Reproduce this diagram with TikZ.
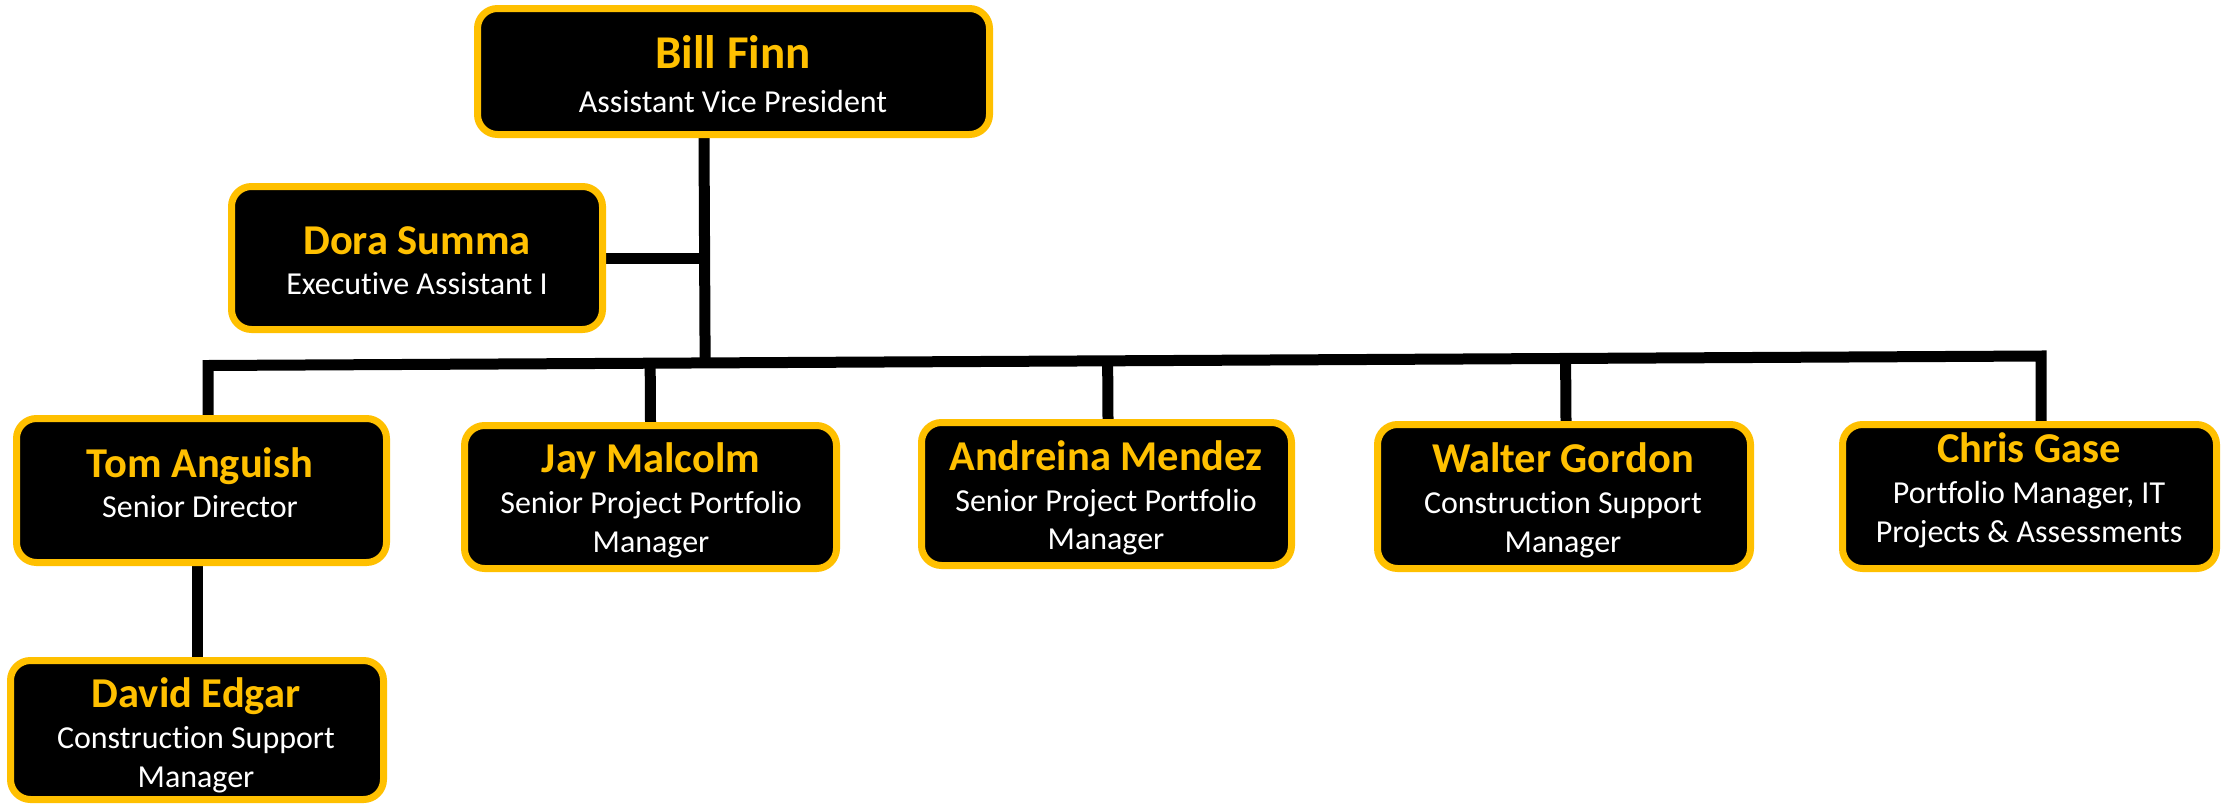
\documentclass[tikz,border=0pt]{standalone}
\usepackage{fontspec}
\setmainfont{Carlito}[Ligatures=NoCommon]
\usetikzlibrary{calc,backgrounds}
\definecolor{gold}{HTML}{FFC000}
\begin{document}
\begin{tikzpicture}[x=1pt,y=-1pt,
  box/.style={draw=gold, line width=7pt, fill=black, rounded corners=20pt, inner sep=0pt},
  pname/.style={anchor=base, text=gold, font=\fontsize{42.5}{50}\selectfont\bfseries, inner sep=0pt},
  bigname/.style={pname, font=\fontsize{47}{56}\selectfont\bfseries},
  ptitle/.style={anchor=base, text=white, font=\fontsize{32}{39}\selectfont, inner sep=0pt},
  link/.style={line width=11pt, draw=black, line join=miter}]
\useasboundingbox (0,0) rectangle (2224,803);
% boxes
\node[box, minimum width=512pt, minimum height=126pt] (bill) at (733.5,71.5) {};
\node[box, minimum width=371pt, minimum height=143pt] (dora) at (417,258) {};
\node[box, minimum width=370pt, minimum height=144pt] (tom) at (201.5,490.5) {};
\node[box, minimum width=372pt, minimum height=143pt] (jay) at (650.5,497) {};
\node[box, minimum width=370pt, minimum height=143pt] (andreina) at (1106.5,494) {};
\node[box, minimum width=373pt, minimum height=144pt] (walter) at (1564,496.5) {};
\node[box, minimum width=374pt, minimum height=144pt] (chris) at (2029.5,496.5) {};
\node[box, minimum width=373pt, minimum height=139pt] (david) at (197,730) {};
% connectors
\coordinate (barL) at (208,365.5);
\coordinate (barR) at (2041,356);
\coordinate (trunk) at (704,0);
\begin{pgfonlayer}{background}
\draw[link] (trunk |- bill.south) -- ($(barL)!(trunk |- bill.south)!(barR)$);
\draw[link] (dora.east) -- (dora.east -| trunk);
\draw[link] (barL |- tom.north) -- (barL) -- (barR) -- (barR |- chris.north);
\draw[link] (jay.north) -- ($(barL)!(jay.north)!(barR)$);
\draw[link] ([xshift=1.5pt]andreina.north) -- ($(barL)!([xshift=1.5pt]andreina.north)!(barR)$);
\draw[link] ([xshift=2pt]walter.north) -- ($(barL)!([xshift=2pt]walter.north)!(barR)$);
\draw[link] (david.north) -- (david.north |- tom.south);
\end{pgfonlayer}
% texts
\node[bigname] (billN) at (733,68) {Bill Finn};
\node[ptitle] (billT) at (733,112) {Assistant Vice President};
\node[pname] (doraN) at (417,254) {Dora Summa};
\node[ptitle] (doraT) at (417,294) {Executive Assistant I};
\node[pname] (tomN) at (200,477) {Tom Anguish};
\node[ptitle] (tomT) at (200,517) {Senior Director};
\node[pname] (jayN) at (651,472) {Jay Malcolm};
\node[ptitle] (jayT1) at (651,513) {Senior Project Portfolio};
\node[ptitle] (jayT2) at (651,552) {Manager};
\node[pname] (andN) at (1106,470) {Andreina Mendez};
\node[ptitle] (andT1) at (1106,511) {Senior Project Portfolio};
\node[ptitle] (andT2) at (1106,549) {Manager};
\node[pname] (walN) at (1563,472) {Walter Gordon};
\node[ptitle] (walT1) at (1563,513) {Construction Support};
\node[ptitle] (walT2) at (1563,552) {Manager};
\node[pname] (chrN) at (2029,462) {Chris Gase};
\node[ptitle] (chrT1) at (2029,503) {Portfolio Manager, IT};
\node[ptitle] (chrT2) at (2029,542) {Projects \& Assessments};
\node[pname] (davN) at (196,707) {David Edgar};
\node[ptitle] (davT1) at (196,748) {Construction Support};
\node[ptitle] (davT2) at (196,787) {Manager};
\end{tikzpicture}
\end{document}
